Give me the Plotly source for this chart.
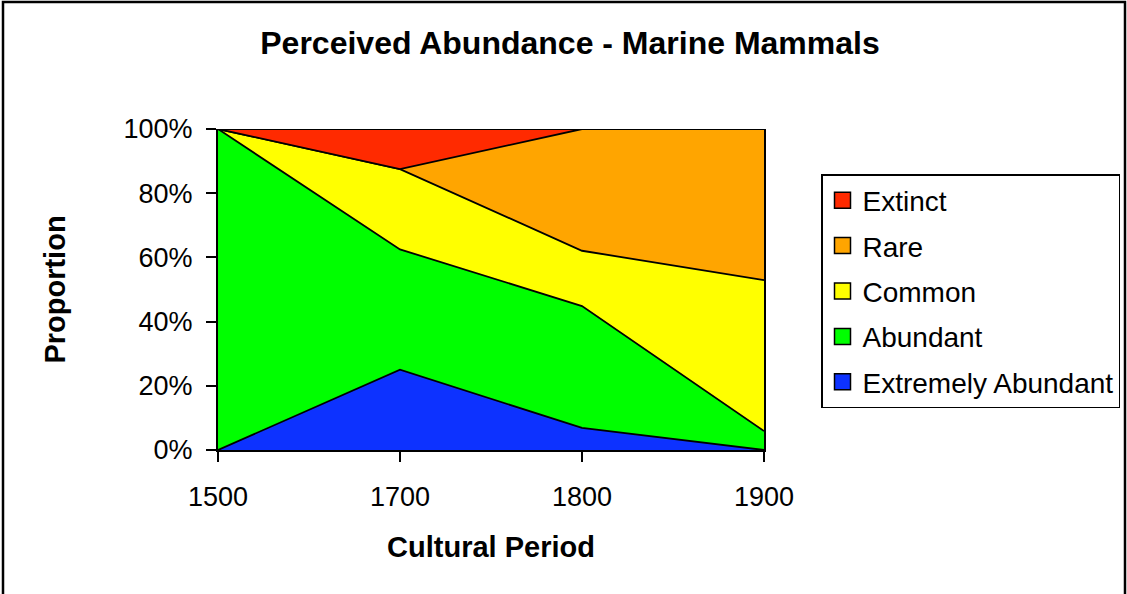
import plotly.graph_objects as go

periods = ["1500", "1700", "1800", "1900"]
extremely_abundant = [0, 2, 2, 0]
abundant = [1, 3, 11, 1]
common = [0, 2, 5, 8]
rare = [0, 0, 11, 8]
extinct = [0, 1, 0, 0]
y_ticks = [0, 20, 40, 60, 80, 100]
y_ticklabels = ["0%", "20%", "40%", "60%", "80%", "100%"]

series = [
    ("Extremely Abundant", extremely_abundant, "#0D32FF"),
    ("Abundant", abundant, "#00FF00"),
    ("Common", common, "#FFFF00"),
    ("Rare", rare, "#FFA500"),
    ("Extinct", extinct, "#FF2A00"),
]

FONT = "Liberation Sans, Arial, sans-serif"

fig = go.Figure()
for name, vals, col in series:
    fig.add_trace(go.Scatter(
        x=list(range(len(periods))), y=vals, name=name,
        mode="lines", stackgroup="one", groupnorm="percent",
        line=dict(color="black", width=1.8), fillcolor=col,
        showlegend=False,
    ))
# legend entries with square swatches (top of stack listed first)
for rank, (name, vals, col) in enumerate(reversed(series)):
    fig.add_trace(go.Scatter(
        x=[None], y=[None], name=name, mode="markers", legendgroup=name,
        legendrank=rank + 1,
        marker=dict(symbol="square", size=16, color=col,
                    line=dict(color="black", width=1.5)),
        showlegend=True,
    ))

W, H = 1127, 594
L, R, T, B = 218, 363, 129, 144
pw, ph = W - L - R, H - T - B

def px_x(px):
    return (px - L) / pw

def px_y(py):
    return (H - B - py) / ph

fig.update_layout(
    width=W, height=H,
    margin=dict(l=L, r=R, t=T, b=B, autoexpand=False),
    paper_bgcolor="white", plot_bgcolor="white",
    font=dict(family=FONT, size=27, color="black"),
    title=dict(text="<b>Perceived Abundance - Marine Mammals</b>",
               x=570 / W, xref="container", y=1 - 43 / H, yref="container",
               yanchor="middle", xanchor="center",
               font=dict(family=FONT, size=32, color="black")),
    showlegend=True,
    legend=dict(x=821 / W, y=1 - 174 / H, xref="container", yref="container",
                xanchor="left", yanchor="top",
                traceorder="grouped", bordercolor="black", borderwidth=1.5,
                bgcolor="white", font=dict(family=FONT, size=28),
                tracegroupgap=6, itemwidth=30),
    xaxis=dict(range=[0, 3], tickvals=list(range(len(periods))), ticktext=periods,
               showgrid=False, zeroline=False, showline=True, linecolor="black",
               linewidth=2, ticks="outside", ticklen=10, tickwidth=1.5,
               tickcolor="black", automargin=False, ticklabelstandoff=12,
               title=dict(text="<b>Cultural Period</b>", standoff=25,
                          font=dict(family=FONT, size=29))),
    yaxis=dict(range=[0, 100], tickvals=y_ticks, ticktext=y_ticklabels,
               showgrid=False, zeroline=False, showline=True, linecolor="black",
               linewidth=2, mirror=True, ticks="outside", ticklen=10, tickwidth=1.5,
               tickcolor="black", automargin=False, ticklabelstandoff=8,
               title=dict(text="<b>Proportion</b>", standoff=49,
                          font=dict(family=FONT, size=29))),
    shapes=[dict(type="rect", xref="paper", yref="paper",
                 x0=px_x(3), x1=px_x(1125), y0=px_y(620), y1=px_y(2),
                 line=dict(color="black", width=2.5), layer="below")],
)

fig.write_html("out.html", config={"displayModeBar": False},
               post_script="document.body.style.margin='0';")
